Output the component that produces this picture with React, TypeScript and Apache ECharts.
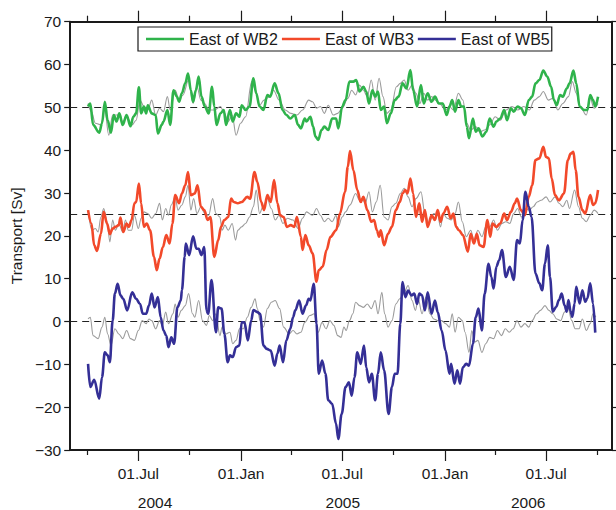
import React, { useEffect, useRef } from "react";
import * as echarts from "echarts";

// ---- time frame (days counted from 2004-03-01) ----
const START_DATE = "2004-03-01";
const END_DATE = "2006-10-27";
const MAJOR_TICKS = ["2004-07-01", "2005-01-01", "2005-07-01", "2006-01-01", "2006-07-01"];
const MINOR_TICKS = ["2004-04-01", "2004-10-01", "2005-04-01", "2005-10-01", "2006-04-01", "2006-10-01"];
const YEAR_LABELS = ["2004", "2005", "2006"];
const YEAR_LABEL_DATES = ["2004-07-31", "2005-07-02", "2006-05-30"];
const MONTHS = ["Jan", "Feb", "Mar", "Apr", "May", "Jun", "Jul", "Aug", "Sep", "Oct", "Nov", "Dec"];
const Y_TICKS_MIN = -30;
const Y_TICKS_MAX = 70;
const REF_LEVELS = [50, 25, 0];

// ---- East of WB2 (thick green) ----
const wb2Days = [32,36,41,52,57,62,67,73,78,83,88,94,101,108,113,118,123,127,132,136,139,146,153,157,164,167,174,179,185,191,195,200,206,211,216,220,225,230,235,241,248,254,258,262,269,275,279,286,291,297,303,307,314,321,328,333,339,346,353,358,366,373,380,387,394,402,408,413,420,423,430,435,439,444,450,455,462,469,476,480,487,493,500,507,512,518,525,530,535,541,546,551,556,562,567,574,581,588,595,602,609,614,621,628,633,640,647,653,660,667,674,679,684,689,695,700,705,710,714,721,726,731,738,745,751,758,763,770,777,782,789,794,801,807,814,821,827,833,840,847,854,861,866,871,877,882,889,894,901,906,912,920,926,931,936,940,945];
const wb2Vals = [50.2,50.9,45.9,44.1,46.3,51.3,47.0,44.1,48.2,46.7,48.6,45.9,48.2,45.6,47.8,48.6,54.7,48.6,50.2,48.6,50.5,48.6,48.2,43.9,45.9,46.7,49.4,45.9,54.0,52.5,51.3,53.3,55.6,57.9,54.0,51.3,54.0,57.2,52.5,50.2,48.6,54.8,50.2,45.9,48.6,49.4,45.9,49.4,46.7,48.6,47.8,50.5,49.4,50.2,56.8,53.3,50.2,49.4,52.9,52.5,55.6,53.3,49.4,48.2,47.4,48.2,45.9,45.1,47.4,46.7,47.8,45.5,43.2,42.4,44.7,45.5,44.7,47.4,47.4,45.1,50.2,51.7,56.0,56.0,56.4,53.7,54.8,53.7,50.9,54.0,52.5,53.7,49.4,50.2,46.3,48.6,51.7,52.5,55.6,54.4,58.7,54.0,50.2,55.2,50.9,53.3,51.3,52.5,50.9,50.9,48.2,50.2,51.7,49.0,51.7,50.2,50.2,45.5,42.8,47.4,44.3,45.1,43.2,44.3,47.4,45.5,46.7,47.4,49.4,47.0,49.8,49.0,50.2,49.8,48.2,51.7,52.5,55.6,56.4,58.6,57.2,54.8,51.7,50.5,52.9,52.5,54.4,55.6,58.6,55.6,50.2,49.4,49.4,52.9,51.7,50.2,52.5];

// ---- thin grey companion of WB2 ----
const wb2RefDays = [32,38,45,55,62,69,76,87,94,101,111,118,125,132,139,146,153,160,167,174,179,188,195,202,212,220,227,234,241,248,258,269,276,283,290,297,305,314,325,332,339,347,357,364,374,385,395,406,416,427,434,441,448,455,462,471,479,487,497,504,511,518,525,532,539,546,553,560,567,574,584,591,598,605,612,619,626,633,640,647,654,661,672,679,686,695,703,710,717,726,733,742,751,761,770,780,791,801,812,822,831,840,847,856,864,873,882,892,899,906,913,924,931,938,945];
const wb2RefVals = [50.9,49.0,46.3,45.9,49.4,43.5,48.2,48.2,46.7,47.8,45.9,47.0,51.7,50.2,49.4,51.7,48.2,49.8,49.0,52.5,49.4,54.0,51.7,52.9,56.4,50.9,54.8,51.7,50.9,49.4,49.4,50.2,48.6,46.7,48.2,43.5,46.3,47.8,56.0,54.0,50.5,51.7,52.5,54.0,51.7,49.4,48.6,48.2,49.4,51.7,51.3,49.8,50.2,48.6,50.5,48.2,48.6,49.8,52.1,54.0,52.9,55.2,54.0,52.5,56.4,51.7,56.8,52.5,48.6,49.4,54.8,55.6,56.4,54.0,55.2,53.3,50.9,53.3,51.7,52.5,51.7,50.9,49.4,50.2,49.4,53.3,51.7,46.3,44.7,45.5,44.3,44.7,45.9,47.8,47.0,49.4,50.2,49.4,50.2,49.4,51.7,52.5,53.7,51.7,52.1,49.4,50.9,52.5,56.0,53.3,50.2,48.2,52.1,49.8,50.9];

// ---- East of WB3 (thick red) ----
const wb3Days = [32,38,43,48,55,60,66,71,76,81,87,90,95,101,105,110,115,118,123,127,132,137,143,150,155,160,166,172,178,183,188,195,200,206,211,216,223,228,234,240,246,251,258,265,270,276,283,288,293,300,307,317,322,330,335,342,347,353,359,365,371,376,382,388,395,401,406,413,416,421,427,434,441,445,452,459,466,476,483,492,497,501,507,514,520,525,532,539,544,549,553,556,562,569,576,583,590,595,600,604,609,614,619,625,630,635,640,647,653,658,663,668,675,681,686,691,696,703,712,717,723,728,733,740,747,752,756,763,770,777,782,789,796,800,807,814,821,827,833,840,847,852,857,862,868,875,884,891,896,901,905,910,917,922,931,936,940,945];
const wb3Vals = [26.0,22.9,17.8,16.5,20.5,25.6,22.9,20.4,21.7,22.1,22.5,24.3,20.9,22.9,22.1,23.7,27.6,27.9,32.2,27.6,22.1,22.9,21.3,15.1,12.0,14.7,17.4,20.2,18.2,22.9,29.5,27.6,29.9,31.8,34.9,29.5,29.9,31.8,26.8,26.0,23.7,24.4,15.1,19.0,22.1,23.7,24.4,28.7,27.9,27.6,27.9,29.1,28.7,34.9,32.6,27.9,26.0,29.5,27.9,33.0,27.6,24.8,24.4,22.1,22.5,22.1,24.4,19.8,16.7,20.2,17.8,15.9,9.3,12.0,12.8,16.7,19.8,21.3,25.2,30.3,36.1,39.8,35.3,30.7,27.9,29.1,26.0,23.3,23.7,21.3,19.8,21.3,17.8,20.5,22.1,26.0,27.9,29.9,30.7,29.9,33.4,29.9,24.4,27.6,23.3,26.0,22.1,24.8,23.7,26.0,23.3,25.2,26.8,24.1,25.2,22.1,21.3,20.2,16.3,20.5,18.2,20.5,17.8,17.4,23.7,19.8,22.9,22.1,22.9,25.2,23.7,25.6,27.6,28.7,26.0,24.8,29.1,31.8,37.7,38.1,40.8,38.4,38.1,33.4,29.5,28.3,29.9,37.7,39.2,39.6,35.3,29.1,26.0,25.2,29.5,27.2,27.6,30.7];

// ---- thin grey companion of WB3 ----
const wb3RefDays = [32,39,45,50,55,60,66,71,76,81,87,94,99,104,110,115,122,127,132,139,146,153,160,165,171,176,181,188,193,200,206,211,216,221,227,234,241,248,255,261,268,272,277,283,290,296,300,307,314,321,328,333,339,345,353,360,367,374,381,389,399,408,416,423,434,441,448,455,462,469,476,480,487,493,501,511,518,523,528,535,541,548,555,562,569,576,583,591,598,605,612,619,628,635,642,651,658,663,668,675,682,689,695,702,709,717,723,730,737,744,751,758,765,773,780,787,794,801,808,815,822,829,836,843,852,859,868,875,882,889,894,903,910,917,924,931,938,945];
const wb3RefVals = [26.0,21.3,21.7,20.9,24.4,26.4,23.3,18.6,23.7,21.3,22.9,20.9,23.7,21.3,21.3,24.8,21.7,24.1,25.6,25.2,24.1,25.2,27.6,23.7,26.4,24.8,27.2,29.1,26.0,27.2,29.1,31.8,26.0,28.7,25.2,26.8,25.2,24.8,28.7,25.2,24.4,21.3,22.5,21.3,22.9,19.0,21.3,22.1,22.9,24.4,26.8,30.7,25.2,26.8,28.7,26.4,23.7,24.8,22.9,24.1,23.7,21.7,24.1,25.6,24.8,26.4,24.8,23.3,24.1,23.3,24.8,22.1,24.4,25.6,27.2,29.9,28.3,28.7,27.6,30.3,25.6,27.9,31.8,24.4,23.7,26.8,27.6,29.9,31.1,29.1,26.8,28.7,30.3,25.2,22.9,25.2,24.8,22.1,25.2,24.1,23.7,25.2,27.9,23.3,19.8,21.3,19.0,21.3,19.8,22.1,22.1,23.7,21.3,22.9,23.3,22.9,25.2,26.4,24.4,26.4,26.0,26.8,27.9,28.3,29.1,27.9,29.1,27.6,26.8,28.3,26.4,30.7,26.8,24.1,23.3,24.8,26.0,25.2];

// ---- East of WB5 (thick navy) ----
const wb5Days = [32,36,43,52,57,62,67,71,76,80,85,90,95,102,111,118,125,130,136,141,146,151,157,162,167,172,176,181,186,192,198,200,205,207,213,220,226,230,235,240,244,247,253,261,265,271,276,282,286,291,297,303,307,312,318,324,328,335,340,346,352,359,366,371,375,381,387,394,399,403,410,416,422,427,430,436,441,445,451,457,462,469,476,480,486,493,499,504,509,514,520,526,530,535,540,546,551,556,562,570,576,581,586,591,595,600,605,611,616,621,625,630,635,640,647,653,658,665,672,679,682,688,693,698,703,709,714,721,726,731,737,742,749,754,758,763,768,773,780,787,794,800,805,810,815,821,826,833,840,845,850,855,859,864,870,875,880,885,889,892,896,899,903,906,912,917,922,926,931,936,940];
const wb5Vals = [-9.9,-15.3,-13.6,-18.0,-13.0,-7.2,-7.9,-9.5,0.2,6.5,8.8,6.1,5.3,2.6,6.8,5.3,4.1,1.8,1.8,3.7,6.5,3.3,5.7,1.0,-2.1,-3.3,-6.0,-3.7,-5.2,3.3,4.9,7.3,15.1,18.2,15.5,19.9,17.0,17.0,15.5,17.4,2.6,1.8,9.7,-2.5,3.3,3.0,-2.9,-9.5,-7.9,-8.3,-6.0,-5.6,-0.2,-0.2,-4.4,0.2,2.7,2.2,1.8,-5.6,-6.4,-6.8,-10.3,-7.5,-5.6,-9.5,-4.4,-1.7,1.0,2.6,4.9,1.8,3.7,5.3,4.9,8.8,-0.5,-12.2,-9.1,-12.2,-18.4,-19.2,-23.9,-27.4,-21.6,-15.3,-14.2,-17.3,-13.0,-7.2,-9.9,-5.6,-10.7,-14.2,-12.2,-18.4,-12.2,-7.2,-11.4,-21.6,-15.3,-12.2,-12.2,-0.5,9.2,5.7,7.2,6.1,6.5,4.1,6.5,6.1,2.6,6.8,1.8,4.9,2.2,-2.1,-6.8,-12.2,-9.9,-14.5,-11.4,-14.5,-10.7,-9.9,-10.3,-5.2,1.0,3.0,-2.1,6.5,13.5,10.4,7.7,12.8,14.3,16.7,10.4,12.8,9.7,19.0,18.2,23.7,30.3,26.8,24.4,11.2,8.9,7.3,13.5,17.8,10.4,2.3,3.4,5.0,6.5,3.8,2.3,5.0,2.3,1.1,4.2,8.1,4.2,7.3,4.6,5.4,8.9,4.2,-2.6];

// ---- thin grey companion of WB5 ----
const wb5RefDays = [32,36,41,50,57,62,67,73,80,87,94,101,108,115,122,129,136,141,146,153,160,165,171,176,184,188,193,199,206,212,219,223,230,237,244,249,255,261,268,272,279,286,291,297,303,310,317,324,331,335,340,346,353,360,367,375,382,392,399,406,413,420,429,437,444,451,458,465,472,479,485,490,494,500,506,511,518,525,532,539,546,551,558,563,569,576,583,590,597,605,612,618,623,630,637,644,651,658,665,672,679,684,689,695,702,707,714,719,724,730,737,744,751,758,765,772,779,786,793,800,807,814,821,827,835,842,850,857,864,871,878,885,891,898,904,911,917,924,931,936,941];
const wb5RefVals = [0.6,1.0,-3.3,-4.0,-1.3,1.0,-2.9,-5.6,-1.7,-2.9,-4.0,-2.1,-4.0,-4.4,-2.1,0.2,-0.5,0.6,0.2,-1.7,0.2,-0.9,2.2,-0.5,1.8,4.1,1.0,2.6,3.7,6.5,1.8,1.0,4.9,0.2,-0.9,1.4,0.2,1.8,-3.3,-1.3,-2.9,-2.5,-5.2,-4.4,-1.7,-1.7,1.0,3.3,5.3,3.0,0.2,-1.3,3.0,4.5,4.9,3.0,-1.3,-2.9,-2.1,-2.9,-2.5,-0.2,1.4,1.8,-2.5,-0.2,-1.7,0.2,-0.9,-3.3,-3.7,-1.3,-2.1,0.2,1.8,4.5,3.7,3.3,4.1,3.0,4.9,1.8,6.8,1.8,-1.3,0.2,4.1,5.3,6.5,8.4,4.9,2.6,5.3,1.8,5.7,1.8,0.6,0.2,0.2,-0.5,-1.3,1.8,-2.5,1.0,0.2,-2.5,-7.2,-2.1,-4.8,-4.4,-7.2,-5.2,-3.7,-4.0,-2.1,-3.3,-1.7,-2.5,-1.7,0.2,-1.3,-0.5,-1.3,0.2,1.8,2.6,3.7,2.6,1.8,0.6,0.2,2.2,3.3,0.2,-1.7,-1.7,0.6,-2.1,-0.5,1.8,1.0];

const DAY_MS = 86400000;
const toMs = (s: string) => Date.parse(s + "T00:00:00Z");
const START_MS = toMs(START_DATE);
const pairs = (days: number[], vals: number[]) => days.map((d, i) => [START_MS + d * DAY_MS, vals[i]]);

const FONT = "'Liberation Sans', Arial, Helvetica, sans-serif";
const INK = "#1a1a1a";
const GREEN = "#2fb34b";
const RED = "#f2492a";
const NAVY = "#342f96";
const GREY = "#9b9b9b";

export default function App() {
  const ref = useRef<HTMLDivElement>(null);
  useEffect(() => {
    if (!ref.current) return;
    const chart = echarts.init(ref.current, null, { renderer: "svg" });
    const minMs = toMs(START_DATE);
    const maxMs = toMs(END_DATE);
    const majors = MAJOR_TICKS.map(toMs);
    const minors = MINOR_TICKS.map(toMs);
    const yearPos = YEAR_LABEL_DATES.map(toMs);

    const baseX = {
      type: "value" as const,
      min: minMs,
      max: maxMs,
      splitLine: { show: false },
      axisLine: { show: false, onZero: false },
      axisTick: { show: false },
      axisLabel: { show: false },
    };

    const thick = (name: string, color: string, days: number[], vals: number[]) => ({
      name,
      type: "line",
      data: pairs(days, vals),
      showSymbol: false,
      symbol: "none",
      smooth: 0.35,
      smoothMonotone: "x",
      lineStyle: { color, width: 2.6 },
      itemStyle: { color },
      z: 3,
      silent: true,
    });
    const thin = (name: string, days: number[], vals: number[]) => ({
      name,
      type: "line",
      data: pairs(days, vals),
      showSymbol: false,
      symbol: "none",
      smooth: 0.35,
      smoothMonotone: "x",
      lineStyle: { color: GREY, width: 1.1 },
      itemStyle: { color: GREY },
      z: 2,
      silent: true,
    });

    chart.setOption({
      animation: false,
      backgroundColor: "#fff",
      textStyle: { fontFamily: FONT },
      grid: { left: 69, right: 4, top: 21.7, bottom: 60, containLabel: false },
      legend: {
        data: ["East of WB2", "East of WB3", "East of WB5"],
        left: 138,
        top: 27,
        padding: [4, 2, 4, 8],
        itemGap: 4,
        itemWidth: 38,
        itemHeight: 2.5,
        icon: "rect",
        selectedMode: false,
        backgroundColor: "#fff",
        borderColor: INK,
        borderWidth: 1.2,
        borderRadius: 0,
        textStyle: { fontSize: 16, color: INK, fontFamily: FONT },
      },
      xAxis: [
        {
          ...baseX,
          position: "bottom",
          axisLine: { show: true, onZero: false, lineStyle: { color: INK, width: 2 } },
          axisTick: { show: true, customValues: majors, length: 11, inside: false, lineStyle: { color: INK, width: 1.2 } },
          axisLabel: {
            show: true,
            customValues: majors,
            margin: 15,
            fontSize: 15.5,
            color: INK,
            fontFamily: FONT,
            formatter: (v: number) => "01." + MONTHS[new Date(v).getUTCMonth()],
          },
        },
        {
          ...baseX,
          position: "bottom",
          axisTick: { show: true, customValues: minors, length: 5, inside: false, lineStyle: { color: INK, width: 1.2 } },
        },
        {
          ...baseX,
          position: "bottom",
          axisLabel: {
            show: true,
            customValues: yearPos,
            margin: 44,
            fontSize: 15.5,
            color: INK,
            fontFamily: FONT,
            formatter: (v: number) => YEAR_LABELS[yearPos.indexOf(v)] ?? "",
          },
        },
        {
          ...baseX,
          position: "top",
          axisLine: { show: true, onZero: false, lineStyle: { color: INK, width: 2 } },
          axisTick: { show: true, customValues: majors, length: 11, inside: false, lineStyle: { color: INK, width: 1.2 } },
        },
        {
          ...baseX,
          position: "top",
          axisTick: { show: true, customValues: minors, length: 6, inside: false, lineStyle: { color: INK, width: 1.2 } },
        },
      ],
      yAxis: [
        {
          type: "value",
          position: "left",
          min: Y_TICKS_MIN,
          max: Y_TICKS_MAX,
          interval: 10,
          splitLine: { show: false },
          axisLine: { show: true, onZero: false, lineStyle: { color: INK, width: 2 } },
          axisTick: { show: true, length: 6, inside: false, lineStyle: { color: INK, width: 1.2 } },
          axisLabel: {
            margin: 9,
            fontSize: 15.5,
            color: INK,
            fontFamily: FONT,
            formatter: (v: number) => (v < 0 ? "\u2212" + Math.abs(v) : String(v)),
          },
          name: "Transport [Sv]",
          nameLocation: "middle",
          nameGap: 42,
          nameTextStyle: { fontSize: 15.5, color: INK, fontFamily: FONT },
        },
        {
          type: "value",
          position: "right",
          min: Y_TICKS_MIN,
          max: Y_TICKS_MAX,
          interval: 10,
          splitLine: { show: false },
          axisLine: { show: true, onZero: false, lineStyle: { color: INK, width: 2 } },
          axisTick: { show: true, length: 6, inside: false, lineStyle: { color: INK, width: 1.2 } },
          axisLabel: { show: false },
        },
      ],
      series: [
        {
          ...thin("ref WB2", wb2RefDays, wb2RefVals),
          markLine: {
            silent: true,
            symbol: "none",
            label: { show: false },
            lineStyle: { color: "#222", width: 1.2, type: [7, 5] },
            data: REF_LEVELS.map((y) => ({ yAxis: y })),
            z: 1,
          },
        },
        thin("ref WB3", wb3RefDays, wb3RefVals),
        thin("ref WB5", wb5RefDays, wb5RefVals),
        thick("East of WB2", GREEN, wb2Days, wb2Vals),
        thick("East of WB3", RED, wb3Days, wb3Vals),
        thick("East of WB5", NAVY, wb5Days, wb5Vals),
      ],
    });
    return () => chart.dispose();
  }, []);
  return <div ref={ref} style={{ position: "fixed", left: 0, top: 0, width: 616, height: 510 }} />;
}
